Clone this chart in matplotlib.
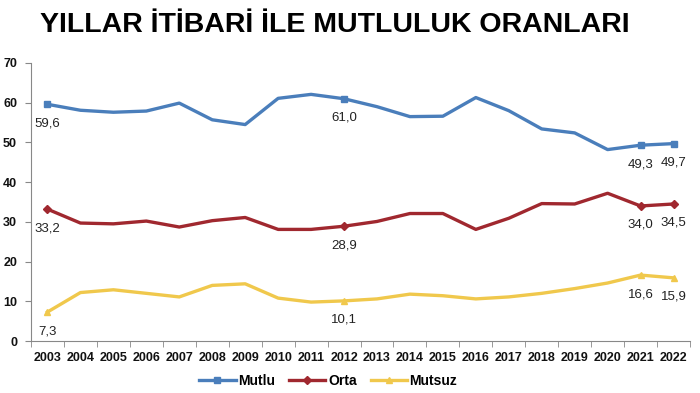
import matplotlib.pyplot as plt
import numpy as np

plt.rcParams['font.family'] = ['Liberation Sans', 'DejaVu Sans']

years = [str(y) for y in range(2003, 2023)]
mutlu = [59.6, 58.1, 57.6, 57.9, 59.9, 55.7, 54.5, 61.1, 62.1, 61.0,
         59.0, 56.5, 56.6, 61.3, 58.0, 53.4, 52.4, 48.2, 49.3, 49.7]
orta = [33.2, 29.7, 29.5, 30.2, 28.7, 30.3, 31.1, 28.1, 28.1, 28.9,
        30.1, 32.1, 32.1, 28.1, 30.9, 34.6, 34.5, 37.2, 34.0, 34.5]
mutsuz = [7.3, 12.2, 12.9, 12.0, 11.1, 14.0, 14.4, 10.8, 9.8, 10.1,
          10.6, 11.8, 11.4, 10.6, 11.1, 12.0, 13.2, 14.6, 16.6, 15.9]
labeled = [0, 9, 18, 19]

series = [
    ("Mutlu", mutlu, "#4A7EBB", "s", 5),
    ("Orta", orta, "#A0282F", "D", 4),
    ("Mutsuz", mutsuz, "#F0C84C", "^", 4),
]

fig = plt.figure(figsize=(7, 3.93), dpi=100)
ax = fig.add_axes([0.0443, 0.1323, 0.9414, 0.7074])

x = np.arange(len(years))
for name, vals, color, marker, ms in series:
    ax.plot(x, vals, color=color, lw=2.4, marker=marker, ms=ms,
            markevery=labeled, label=name, solid_joinstyle="round")
    for i in labeled:
        ax.annotate(f"{vals[i]:.1f}".replace(".", ","), (x[i], vals[i]),
                    xytext=(0, -19), textcoords="offset pixels",
                    ha="center", va="center", fontsize=9.5, color="#222222")

ax.set_ylim(0, 70)
ax.set_yticks(range(0, 71, 10))
ax.set_xlim(-0.5, len(years) - 0.5)
ax.set_xticks(x)
ax.set_xticklabels(years)
ax.set_xticks(np.arange(-0.5, len(years)), minor=True)
ax.tick_params(axis="x", which="major", length=0, pad=8)
ax.tick_params(axis="x", which="minor", length=4, color="#888888")
ax.tick_params(axis="y", length=4, color="#888888", pad=6)
for lab in ax.get_xticklabels() + ax.get_yticklabels():
    lab.set_fontweight("bold")
    lab.set_fontsize(9)
    lab.set_color("#111111")

for s in ["top", "right"]:
    ax.spines[s].set_visible(False)
for s in ["left", "bottom"]:
    ax.spines[s].set_color("#888888")

fig.text(0.478, 0.937, "YILLAR İTİBARİ İLE MUTLULUK ORANLARI",
         ha="center", va="center", fontsize=20.5, fontweight="bold",
         family=["Liberation Sans Narrow", "Liberation Sans", "DejaVu Sans"])

leg = fig.legend(loc="center", bbox_to_anchor=(0.469, 0.031), ncol=3, frameon=False,
                 prop={"weight": "bold", "size": 10}, handlelength=2.6,
                 columnspacing=1.0, handletextpad=0.2)

plt.savefig("out.png", dpi=100)
